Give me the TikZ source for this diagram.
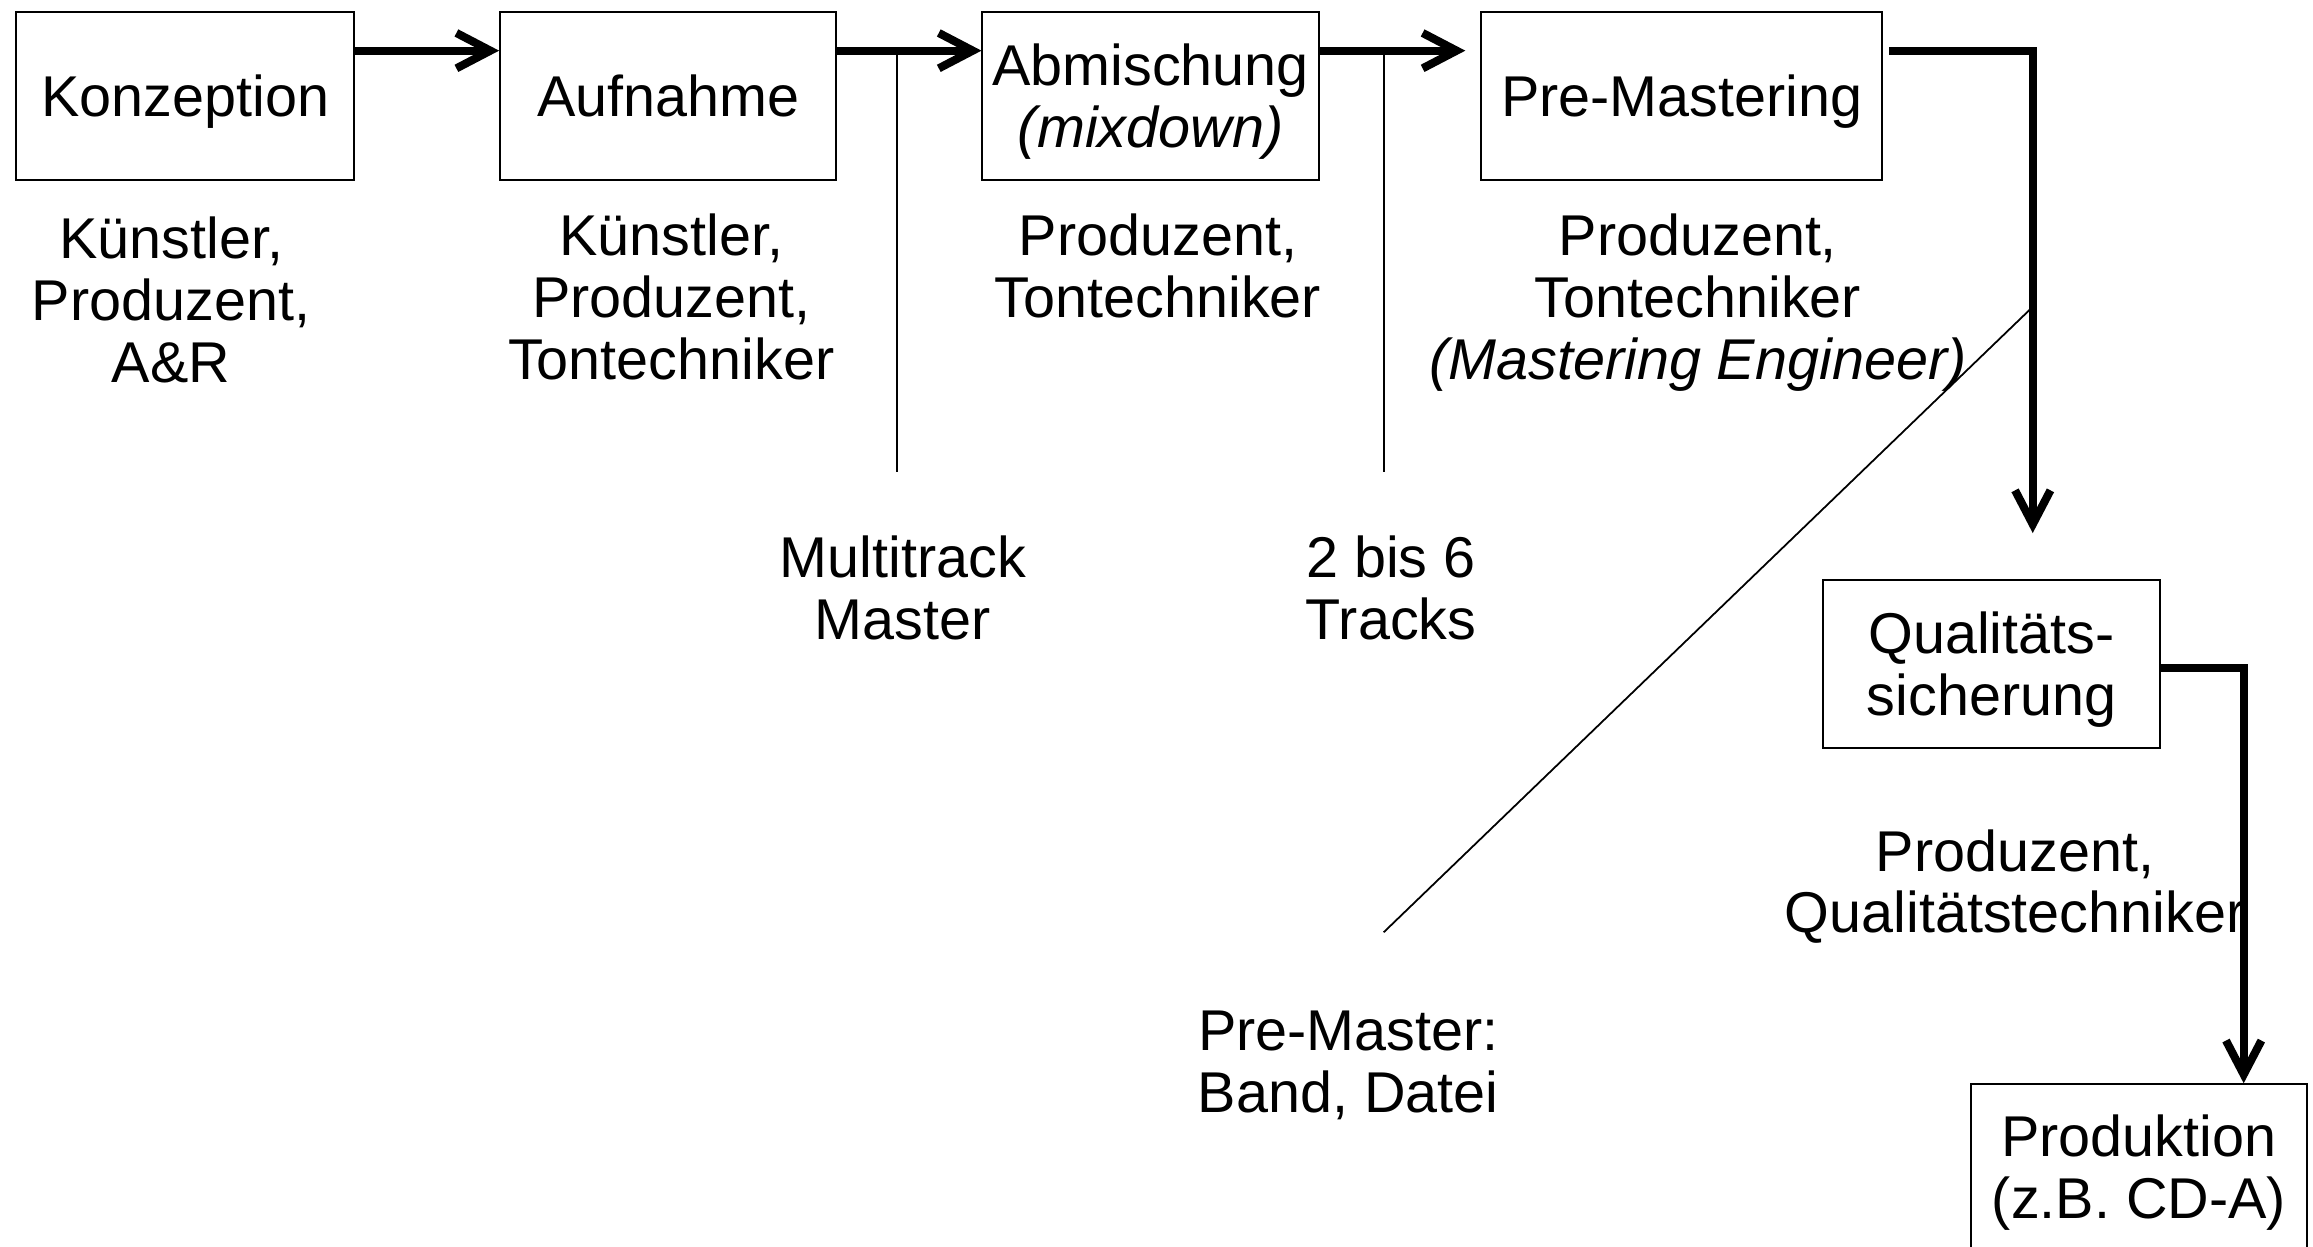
\documentclass[tikz,border=0pt]{standalone}
\usepackage{fontspec}
\setmainfont{Liberation Sans}
\usetikzlibrary{arrows.meta}

\begin{document}
\begin{tikzpicture}[x=1pt, y=-1pt,
  font=\fontsize{39}{42}\selectfont,
  box/.style={draw, line width=1.3pt, inner sep=0pt, align=center,
    minimum width=228pt, minimum height=114pt},
  onebox/.style={box, text depth=0pt},
  role/.style={align=center, inner sep=0pt, anchor=north},
  flow/.style={line width=5.5pt, -{Straight Barb[length=23pt,width=24pt]}},
  thin/.style={line width=1.2pt}]
  \useasboundingbox (0,0) rectangle (1568,845);
  \clip (0,0) rectangle (1568,845);
  % process steps
  \node[onebox, minimum width=229pt] (konz) at (125.5,65) {Konzeption};
  \node[onebox] (aufn) at (453,65) {Aufnahme};
  \node[onebox] (abm) at (780,65) {Abmischung\\\textit{(mixdown)}};
  \node[onebox, minimum width=272pt] (pre) at (1140,65) {Pre-Mastering};
  \node[onebox] (qual) at (1350,450) {Qualitäts-\\sicherung};
  \node[box, minimum height=120pt] (prod) at (1450,795) {Produktion\\(z.B. CD-A)};
  % people involved
  \node[role] (rkonz) at (116,147) {Künstler,\\Produzent,\\A\&R};
  \node[role] (raufn) at (455,145) {Künstler,\\Produzent,\\Tontechniker};
  \node[role] (rabm) at (785,145) {Produzent,\\Tontechniker};
  \node[role] (rpre) at (1151,145) {Produzent,\\Tontechniker\\\textit{(Mastering Engineer)}};
  \node[role] (rqual) at (1366,562) {Produzent,\\Qualitätstechniker};
  % media between the steps
  \node[role] (multi) at (612,363) {Multitrack\\Master};
  \node[role] (tracks) at (943,363) {2 bis 6\\Tracks};
  \node[role] (pmaster) at (914,685) {Pre-Master:\\Band, Datei};
  % main flow
  \draw[flow] ([yshift=-27pt]konz.north east) -- ([yshift=-27pt]aufn.north west);
  \draw[flow] ([yshift=-27pt]aufn.north east) -- ([yshift=-27pt]abm.north west);
  \draw[flow, shorten >=10pt] ([yshift=-27pt]abm.north east) -- ([yshift=-27pt]pre.north west);
  \draw[flow] ([xshift=4pt,yshift=-27pt]pre.north east) -| ([xshift=28pt,yshift=31pt]qual.north);
  \draw[flow] ([yshift=-3pt]qual.east) -| ([xshift=71pt]prod.north);
  % taps to the media
  \foreach \n/\x in {mix/608, pm/938} {
    \coordinate (\n top) at (\x,35);
    \coordinate (\n bot) at (\x,320);
    \draw[thin] (\n top) -- (\n bot);
  }
  \coordinate (diag top) at (1378,208);
  \coordinate (diag bot) at (938,632);
  \draw[thin] (diag top) -- (diag bot);
\end{tikzpicture}
\end{document}
